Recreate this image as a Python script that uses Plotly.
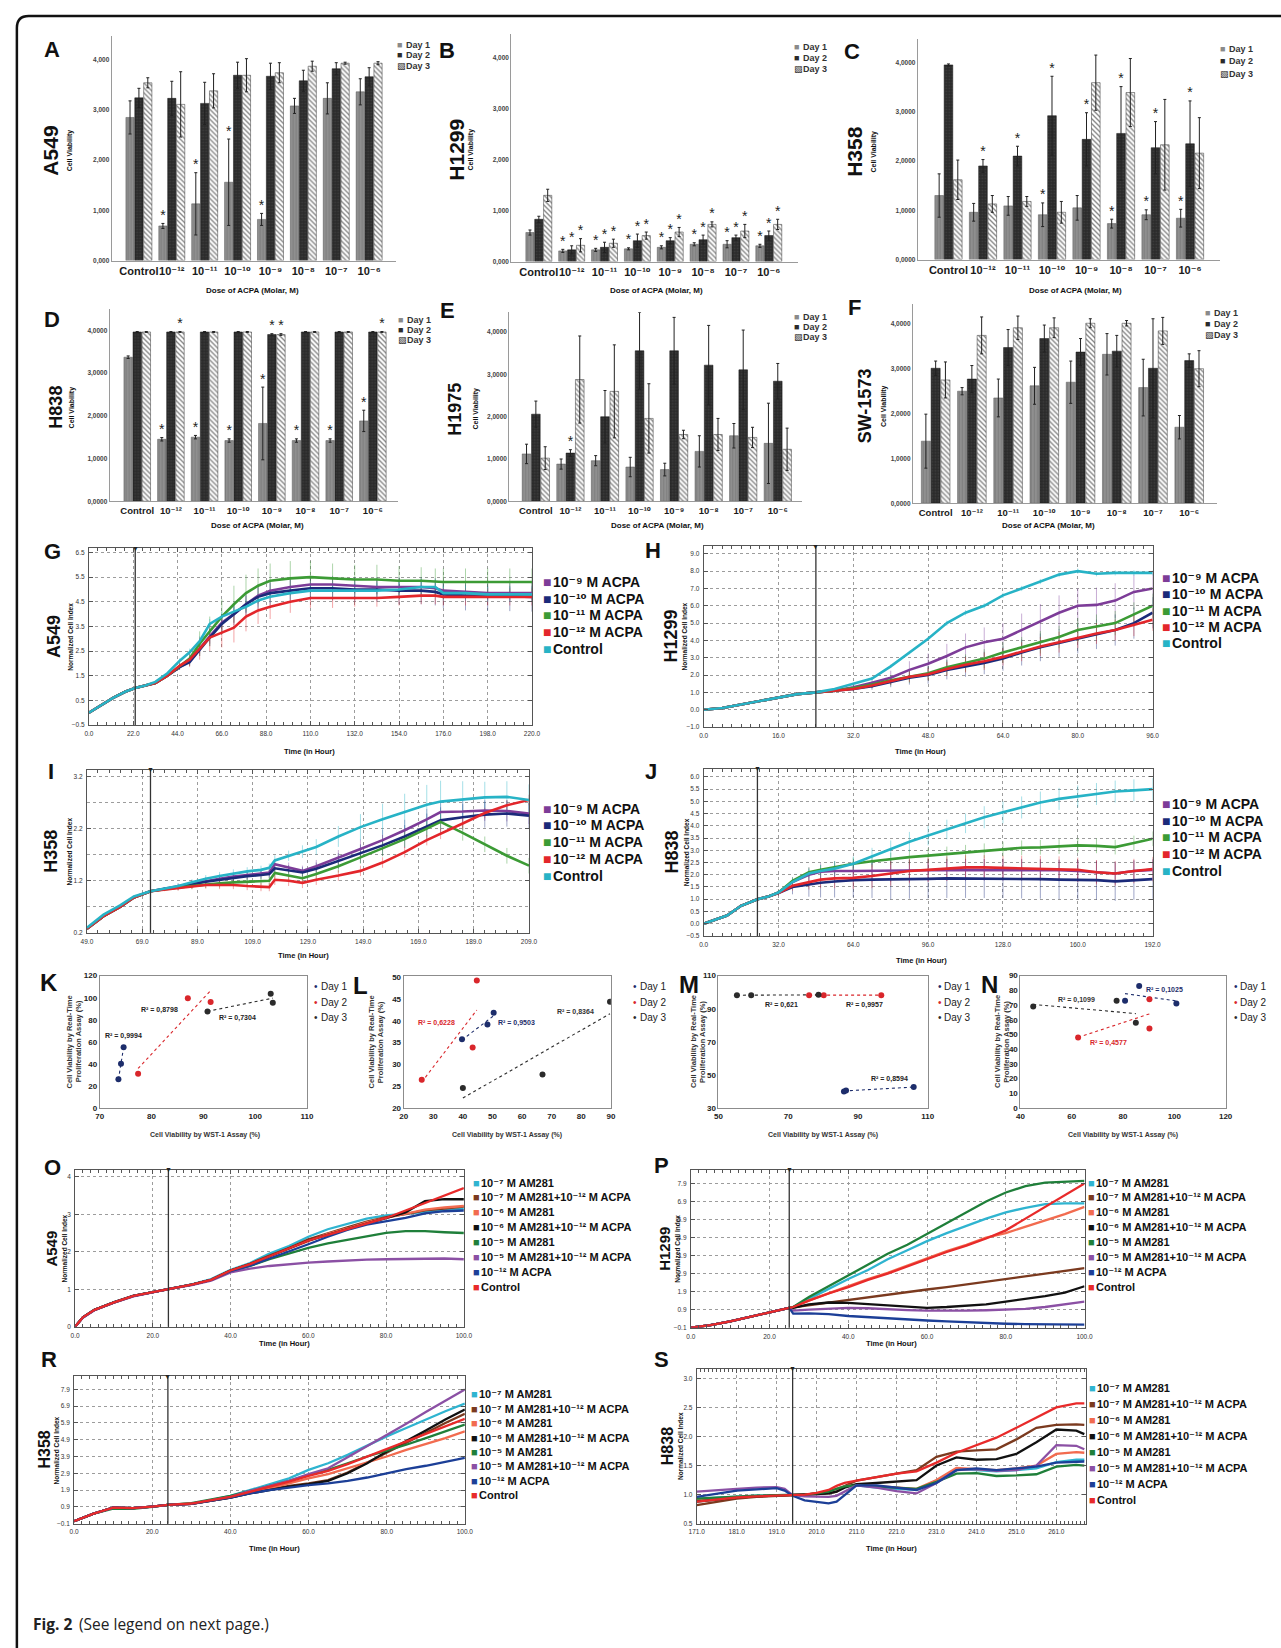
import numpy as np
import plotly.graph_objects as go

# ============================================================ DATA
DOSE_LABELS = ["Control", "10⁻¹²", "10⁻¹¹", "10⁻¹⁰", "10⁻⁹", "10⁻⁸", "10⁻⁷", "10⁻⁶"]
DAY_LABELS = ["Day 1", "Day 2", "Day 3"]
YT3 = ["0,000", "1,000", "2,000", "3,000", "4,000"]
YT4 = ["0,0000", "1,0000", "2,0000", "3,0000", "4,0000"]

# A  A549
A_D1 = [2.85, 0.69, 1.13, 1.56, 0.82, 3.08, 3.23, 3.36]
A_D1_ERR = [0.33, 0.05, 0.62, 0.86, 0.12, 0.15, 0.31, 0.26]
A_D2 = [3.24, 3.23, 3.13, 3.69, 3.67, 3.58, 3.82, 3.66]
A_D2_ERR = [0.19, 0.34, 0.42, 0.26, 0.26, 0.21, 0.12, 0.18]
A_D3 = [3.54, 3.11, 3.38, 3.69, 3.74, 3.87, 3.93, 3.93]
A_D3_ERR = [0.10, 0.65, 0.34, 0.33, 0.20, 0.10, 0.02, 0.03]
A_STARS = [(1, 0), (2, 0), (3, 0), (4, 0)]

# B  H1299
B_D1 = [0.57, 0.21, 0.23, 0.25, 0.28, 0.34, 0.34, 0.31]
B_D1_ERR = [0.05, 0.03, 0.03, 0.02, 0.03, 0.03, 0.07, 0.03]
B_D2 = [0.83, 0.23, 0.28, 0.41, 0.41, 0.43, 0.47, 0.51]
B_D2_ERR = [0.06, 0.08, 0.10, 0.13, 0.06, 0.09, 0.05, 0.09]
B_D3 = [1.30, 0.32, 0.36, 0.51, 0.58, 0.73, 0.60, 0.73]
B_D3_ERR = [0.12, 0.13, 0.08, 0.07, 0.09, 0.05, 0.13, 0.10]
B_STARS = [(1, 0), (1, 1), (1, 2), (2, 0), (2, 1), (2, 2), (3, 0), (3, 1), (3, 2),
           (4, 0), (4, 1), (4, 2), (5, 0), (5, 1), (5, 2), (6, 0), (6, 1), (6, 2),
           (7, 0), (7, 1), (7, 2)]

# C  H358
C_D1 = [1.30, 0.96, 1.09, 0.91, 1.05, 0.73, 0.91, 0.84]
C_D1_ERR = [0.44, 0.18, 0.19, 0.24, 0.25, 0.09, 0.10, 0.18]
C_D2 = [3.95, 1.90, 2.10, 2.92, 2.44, 2.56, 2.27, 2.35]
C_D2_ERR = [0.02, 0.13, 0.20, 0.80, 0.54, 0.95, 0.53, 0.87]
C_D3 = [1.62, 1.13, 1.18, 0.96, 3.59, 3.39, 2.33, 2.16]
C_D3_ERR = [0.40, 0.17, 0.10, 0.22, 0.56, 0.69, 0.92, 0.72]
C_STARS = [(1, 1), (2, 1), (3, 0), (3, 1), (4, 1), (5, 0), (5, 1), (6, 0), (6, 1), (7, 0), (7, 1)]

# D  H838
D_D1 = [3.37, 1.45, 1.50, 1.42, 1.82, 1.42, 1.42, 1.88]
D_D1_ERR = [0.03, 0.04, 0.04, 0.04, 0.85, 0.04, 0.04, 0.25]
D_D2 = [3.96, 3.96, 3.96, 3.96, 3.90, 3.96, 3.96, 3.96]
D_D2_ERR = [0.01, 0.01, 0.01, 0.01, 0.02, 0.01, 0.01, 0.01]
D_D3 = [3.96, 3.96, 3.96, 3.96, 3.90, 3.96, 3.96, 3.96]
D_D3_ERR = [0.01, 0.01, 0.01, 0.01, 0.02, 0.01, 0.01, 0.01]
D_STARS = [(1, 0), (2, 0), (3, 0), (4, 0), (5, 0), (6, 0), (7, 0), (1, 2), (4, 1), (4, 2), (7, 2)]

# E  H1975
E_D1 = [1.12, 0.88, 0.96, 0.81, 0.75, 1.18, 1.55, 1.37]
E_D1_ERR = [0.23, 0.12, 0.12, 0.23, 0.15, 0.37, 0.29, 0.95]
E_D2 = [2.06, 1.14, 2.00, 3.56, 3.56, 3.22, 3.11, 2.84]
E_D2_ERR = [0.31, 0.08, 0.62, 0.91, 0.79, 0.94, 0.94, 0.42]
E_D3 = [1.02, 2.88, 2.60, 1.96, 1.58, 1.58, 1.51, 1.23]
E_D3_ERR = [0.27, 1.03, 1.10, 0.82, 0.10, 0.38, 0.24, 0.50]
E_STARS = [(1, 1)]

# F  SW-1573
F_D1 = [1.38, 2.49, 2.34, 2.61, 2.69, 3.31, 2.57, 1.69]
F_D1_ERR = [0.60, 0.08, 0.42, 0.41, 0.47, 0.46, 0.63, 0.26]
F_D2 = [3.00, 2.76, 3.46, 3.66, 3.36, 3.38, 3.00, 3.17]
F_D2_ERR = [0.16, 0.30, 0.40, 0.30, 0.30, 0.35, 1.10, 0.15]
F_D3 = [2.74, 3.73, 3.90, 3.90, 4.00, 4.00, 3.83, 2.99]
F_D3_ERR = [0.40, 0.41, 0.26, 0.22, 0.10, 0.06, 0.30, 0.40]
F_STARS = []

ACPA_LABELS = ["10⁻⁹ M ACPA", "10⁻¹⁰ M ACPA", "10⁻¹¹ M ACPA", "10⁻¹² M ACPA", "Control"]

# G  A549 real-time
G_T = [0, 6, 12, 18, 23, 28, 33, 39, 45, 50, 55, 60, 66, 72, 78, 84, 90, 100, 110, 121,
       132, 143, 154, 165, 172, 176, 187, 198, 209, 220]
G_M9 = [0.0, 0.3, 0.6, 0.85, 1.0, 1.1, 1.2, 1.5, 1.85, 2.1, 2.6, 3.1, 3.65, 4.0, 4.4, 4.75, 4.95,
        5.1, 5.2, 5.2, 5.15, 5.1, 5.1, 5.1, 5.05, 4.95, 4.9, 4.85, 4.85, 4.85]
G_M10 = [0.0, 0.3, 0.6, 0.85, 1.0, 1.1, 1.2, 1.5, 1.85, 2.05, 2.55, 3.05, 3.6, 4.0, 4.4, 4.7, 4.85,
         4.95, 5.05, 5.05, 5.0, 5.0, 4.95, 4.95, 4.9, 4.8, 4.75, 4.75, 4.72, 4.7]
G_M11 = [0.0, 0.3, 0.6, 0.85, 1.0, 1.1, 1.2, 1.5, 1.9, 2.2, 2.8, 3.3, 3.9, 4.4, 4.85, 5.15, 5.35,
         5.45, 5.5, 5.45, 5.4, 5.4, 5.35, 5.35, 5.3, 5.3, 5.3, 5.3, 5.3, 5.3]
G_M12 = [0.0, 0.3, 0.6, 0.85, 1.0, 1.1, 1.2, 1.5, 1.9, 2.15, 2.6, 3.05, 3.25, 3.45, 3.9, 4.15, 4.3,
         4.5, 4.65, 4.65, 4.65, 4.65, 4.7, 4.75, 4.75, 4.7, 4.7, 4.7, 4.7, 4.7]
G_CTRL = [0.0, 0.3, 0.6, 0.85, 1.0, 1.1, 1.25, 1.6, 2.1, 2.45, 2.9, 3.6, 3.9, 4.1, 4.3, 4.55, 4.7,
          4.85, 4.95, 4.95, 4.95, 4.95, 5.0, 5.1, 5.1, 4.85, 4.85, 4.8, 4.8, 4.8]
G_M9_ERR = [0, 0, 0, 0, 0, 0, 0, 0.05, 0.1, 0.15, 0.2, 0.3, 0.35, 0.35, 0.35, 0.35, 0.3, 0.3, 0.3,
            0.3, 0.3, 0.3, 0.3, 0.3, 0.3, 0.3, 0.3, 0.3, 0.3, 0.3]
G_M10_ERR = [0, 0, 0, 0, 0, 0, 0, 0.05, 0.1, 0.15, 0.25, 0.35, 0.4, 0.45, 0.45, 0.5, 0.5, 0.5, 0.5,
             0.5, 0.5, 0.5, 0.55, 0.55, 0.55, 0.55, 0.6, 0.6, 0.6, 0.6]
G_M11_ERR = [0, 0, 0, 0, 0, 0, 0, 0.05, 0.15, 0.3, 0.5, 0.6, 0.7, 0.75, 0.75, 0.7, 0.7, 0.7, 0.65,
             0.6, 0.6, 0.6, 0.6, 0.55, 0.55, 0.55, 0.55, 0.55, 0.55, 0.55]
G_M12_ERR = [0, 0, 0, 0, 0, 0, 0, 0.05, 0.15, 0.3, 0.45, 0.55, 0.6, 0.6, 0.6, 0.55, 0.5, 0.45, 0.4,
             0.4, 0.35, 0.35, 0.35, 0.35, 0.35, 0.35, 0.35, 0.35, 0.35, 0.35]
G_CTRL_ERR = [0, 0, 0, 0, 0, 0, 0, 0.05, 0.1, 0.15, 0.2, 0.2, 0.2, 0.2, 0.25, 0.25, 0.25, 0.25, 0.3,
              0.3, 0.3, 0.3, 0.3, 0.3, 0.3, 0.3, 0.3, 0.3, 0.3, 0.3]

# H  H1299 real-time
H_T = [0, 4, 8, 12, 16, 20, 24, 28, 32, 36, 40, 44, 48, 52, 56, 60, 64, 68, 72, 76, 80, 84, 88, 92, 96]
H_M9 = [0, 0.1, 0.3, 0.5, 0.7, 0.9, 1.0, 1.1, 1.3, 1.55, 1.85, 2.3, 2.65, 3.1, 3.6, 3.9, 4.1, 4.6,
        5.1, 5.6, 6.0, 6.05, 6.3, 6.8, 7.0]
H_M10 = [0, 0.1, 0.3, 0.5, 0.7, 0.9, 1.0, 1.1, 1.2, 1.35, 1.6, 1.85, 2.0, 2.3, 2.5, 2.7, 2.95, 3.3,
         3.6, 3.85, 4.1, 4.35, 4.6, 5.0, 5.6]
H_M11 = [0, 0.1, 0.3, 0.5, 0.7, 0.9, 1.0, 1.1, 1.25, 1.45, 1.7, 1.9, 2.1, 2.45, 2.7, 2.95, 3.3, 3.6,
         3.9, 4.2, 4.6, 4.8, 5.0, 5.5, 6.0]
H_M12 = [0, 0.1, 0.3, 0.5, 0.7, 0.9, 1.0, 1.1, 1.2, 1.4, 1.65, 1.9, 2.05, 2.35, 2.6, 2.8, 3.05, 3.35,
         3.65, 3.9, 4.15, 4.4, 4.6, 4.9, 5.2]
H_CTRL = [0, 0.1, 0.3, 0.5, 0.7, 0.9, 1.0, 1.2, 1.5, 1.8, 2.5, 3.3, 4.1, 5.0, 5.6, 6.0, 6.6, 7.0,
          7.4, 7.8, 8.0, 7.85, 7.9, 7.9, 7.9]
H_M9_ERR = [0, 0, 0, 0, 0, 0, 0, 0.1, 0.2, 0.3, 0.4, 0.5, 0.6, 0.7, 0.8, 0.85, 0.9, 0.95, 1.0, 1.0,
            1.0, 1.0, 1.0, 1.0, 1.0]
H_M10_ERR = [0, 0, 0, 0, 0, 0, 0, 0.1, 0.15, 0.2, 0.3, 0.4, 0.5, 0.55, 0.6, 0.65, 0.7, 0.75, 0.8,
             0.8, 0.85, 0.85, 0.9, 0.9, 0.9]
H_M11_ERR = [0, 0, 0, 0, 0, 0, 0, 0.1, 0.15, 0.2, 0.3, 0.35, 0.4, 0.45, 0.5, 0.55, 0.6, 0.6, 0.65,
             0.65, 0.7, 0.7, 0.7, 0.7, 0.7]
H_M12_ERR = [0, 0, 0, 0, 0, 0, 0, 0.05, 0.1, 0.15, 0.2, 0.3, 0.35, 0.4, 0.45, 0.5, 0.5, 0.55, 0.55,
             0.6, 0.6, 0.6, 0.6, 0.65, 0.65]
H_CTRL_ERR = [0, 0, 0, 0, 0, 0, 0, 0.05, 0.05, 0.1, 0.1, 0.1, 0.1, 0.15, 0.15, 0.15, 0.15, 0.15,
              0.15, 0.15, 0.15, 0.15, 0.15, 0.15, 0.15]

# I  H358 real-time
I_T = [49, 55, 61, 66, 72, 77, 82, 87, 92, 97, 102, 107, 112, 115, 117, 122, 127, 132, 140, 148,
       156, 164, 172, 177, 185, 193, 201, 209]
I_M9 = [0.28, 0.52, 0.7, 0.88, 1.0, 1.05, 1.1, 1.15, 1.2, 1.24, 1.28, 1.31, 1.34, 1.36, 1.52, 1.45,
        1.39, 1.48, 1.64, 1.81, 1.98, 2.17, 2.38, 2.52, 2.53, 2.55, 2.54, 2.49]
I_M10 = [0.28, 0.52, 0.7, 0.88, 1.0, 1.04, 1.08, 1.13, 1.18, 1.22, 1.26, 1.29, 1.31, 1.33, 1.44, 1.4,
         1.36, 1.43, 1.58, 1.72, 1.88, 2.05, 2.24, 2.36, 2.42, 2.47, 2.49, 2.45]
I_M11 = [0.28, 0.52, 0.7, 0.88, 1.0, 1.04, 1.07, 1.1, 1.13, 1.15, 1.17, 1.18, 1.19, 1.2, 1.35, 1.3,
         1.25, 1.33, 1.48, 1.65, 1.82, 2.0, 2.2, 2.33, 2.12, 1.9, 1.68, 1.49]
I_M12 = [0.28, 0.52, 0.7, 0.88, 1.0, 1.03, 1.06, 1.1, 1.12, 1.12, 1.12, 1.1, 1.08, 1.08, 1.22, 1.2,
         1.16, 1.22, 1.3, 1.39, 1.55, 1.75, 1.98, 2.1, 2.3, 2.5, 2.65, 2.75]
I_CTRL = [0.3, 0.55, 0.73, 0.9, 1.0, 1.05, 1.1, 1.17, 1.24, 1.29, 1.34, 1.38, 1.41, 1.45, 1.59, 1.68,
          1.76, 1.85, 2.05, 2.23, 2.38, 2.52, 2.66, 2.72, 2.76, 2.8, 2.81, 2.75]
I_M9_ERR = [0, 0.02, 0.02, 0.02, 0, 0.03, 0.05, 0.06, 0.07, 0.08, 0.08, 0.08, 0.08, 0.08, 0.1, 0.1,
            0.1, 0.12, 0.15, 0.18, 0.2, 0.2, 0.2, 0.2, 0.2, 0.2, 0.2, 0.2]
I_M10_ERR = [0, 0.02, 0.02, 0.02, 0, 0.03, 0.05, 0.06, 0.07, 0.08, 0.08, 0.08, 0.08, 0.08, 0.1, 0.1,
             0.1, 0.12, 0.15, 0.18, 0.2, 0.22, 0.25, 0.25, 0.25, 0.25, 0.25, 0.25]
I_M11_ERR = [0, 0.02, 0.02, 0.02, 0, 0.03, 0.05, 0.06, 0.07, 0.08, 0.08, 0.08, 0.08, 0.08, 0.1, 0.1,
             0.1, 0.1, 0.12, 0.12, 0.15, 0.15, 0.15, 0.15, 0.15, 0.15, 0.15, 0.15]
I_M12_ERR = [0, 0.02, 0.02, 0.02, 0, 0.03, 0.05, 0.06, 0.07, 0.08, 0.08, 0.08, 0.08, 0.08, 0.1, 0.1,
             0.1, 0.1, 0.1, 0.1, 0.1, 0.1, 0.1, 0.1, 0.1, 0.1, 0.1, 0.1]
I_CTRL_ERR = [0, 0.02, 0.02, 0.02, 0, 0.03, 0.05, 0.06, 0.07, 0.08, 0.08, 0.08, 0.08, 0.08, 0.1,
              0.1, 0.12, 0.15, 0.2, 0.25, 0.3, 0.35, 0.38, 0.4, 0.35, 0.3, 0.3, 0.3]

# J  H838 real-time
J_T = [0, 5, 10, 16, 23, 28, 32, 38, 45, 50, 56, 64, 72, 80, 88, 96, 104, 112, 120, 128, 136, 144,
       152, 160, 168, 176, 184, 192]
J_M9 = [0, 0.15, 0.33, 0.73, 1.0, 1.12, 1.27, 1.7, 2.0, 2.12, 2.15, 2.15, 2.15, 2.15, 2.15, 2.18,
        2.2, 2.2, 2.2, 2.2, 2.2, 2.2, 2.18, 2.15, 2.1, 2.05, 2.15, 2.2]
J_M10 = [0, 0.15, 0.33, 0.73, 1.0, 1.12, 1.25, 1.5, 1.6, 1.67, 1.72, 1.78, 1.8, 1.8, 1.82, 1.83,
         1.85, 1.85, 1.85, 1.85, 1.83, 1.82, 1.8, 1.8, 1.78, 1.73, 1.78, 1.82]
J_M11 = [0, 0.15, 0.33, 0.73, 1.0, 1.12, 1.27, 1.75, 2.1, 2.2, 2.3, 2.45, 2.55, 2.65, 2.72, 2.78,
         2.85, 2.92, 2.98, 3.05, 3.1, 3.12, 3.15, 3.2, 3.18, 3.13, 3.3, 3.47]
J_M12 = [0, 0.15, 0.33, 0.73, 1.0, 1.12, 1.25, 1.55, 1.7, 1.8, 1.85, 1.87, 1.95, 2.05, 2.15, 2.2,
         2.25, 2.3, 2.3, 2.28, 2.28, 2.27, 2.25, 2.2, 2.1, 2.05, 2.15, 2.23]
J_CTRL = [0, 0.15, 0.33, 0.73, 1.0, 1.12, 1.27, 1.7, 2.05, 2.15, 2.25, 2.45, 2.75, 3.05, 3.35, 3.6,
          3.85, 4.1, 4.35, 4.55, 4.75, 4.95, 5.1, 5.2, 5.3, 5.4, 5.45, 5.5]
J_M9_ERR = [0, 0, 0.02, 0.05, 0, 0.05, 0.1, 0.2, 0.3, 0.35, 0.4, 0.4, 0.45, 0.45, 0.45, 0.45, 0.45,
            0.45, 0.45, 0.45, 0.45, 0.45, 0.45, 0.45, 0.45, 0.45, 0.45, 0.45]
J_M10_ERR = [0, 0, 0.02, 0.05, 0, 0.05, 0.1, 0.3, 0.5, 0.6, 0.65, 0.7, 0.75, 0.8, 0.8, 0.8, 0.8,
             0.8, 0.8, 0.8, 0.8, 0.8, 0.8, 0.8, 0.8, 0.8, 0.8, 0.8]
J_M11_ERR = [0, 0, 0.02, 0.05, 0, 0.05, 0.1, 0.15, 0.2, 0.2, 0.25, 0.25, 0.25, 0.25, 0.3, 0.3, 0.3,
             0.3, 0.3, 0.3, 0.3, 0.3, 0.3, 0.3, 0.3, 0.3, 0.3, 0.3]
J_M12_ERR = [0, 0, 0.02, 0.05, 0, 0.05, 0.1, 0.2, 0.3, 0.35, 0.4, 0.45, 0.5, 0.5, 0.5, 0.5, 0.5,
             0.5, 0.5, 0.5, 0.5, 0.5, 0.5, 0.5, 0.5, 0.5, 0.5, 0.5]
J_CTRL_ERR = [0, 0, 0.02, 0.05, 0, 0.05, 0.1, 0.15, 0.2, 0.25, 0.3, 0.3, 0.35, 0.35, 0.4, 0.4, 0.4,
              0.4, 0.45, 0.45, 0.45, 0.45, 0.45, 0.45, 0.45, 0.45, 0.45, 0.45]

# K-N  WST-1 vs real-time (x, y per day)
K_D1_X = [73.6, 74.1, 74.6]; K_D1_Y = [26, 40, 55]
K_D2_X = [77.4, 87.0, 91.4]; K_D2_Y = [31, 99.5, 96]
K_D3_X = [90.8, 103.0, 103.4]; K_D3_Y = [87.5, 103.5, 95.5]
K_R2 = ["R² = 0,9994", "R² = 0,8798", "R² = 0,7304"]

L_D1_X = [39.7, 48.3, 50.4]; L_D1_Y = [35.8, 39.2, 41.9]
L_D2_X = [26.1, 44.7, 43.3]; L_D2_Y = [26.5, 49.3, 33.9]
L_D3_X = [40.0, 66.9, 89.7]; L_D3_Y = [24.6, 27.7, 44.4]
L_R2 = ["R² = 0,9503", "R² = 0,6228", "R² = 0,8364"]

M_D1_X = [86.0, 86.6, 106.0]; M_D1_Y = [40.0, 40.6, 42.6]
M_D2_X = [76.0, 80.2, 96.7]; M_D2_Y = [98.2, 98.2, 98.2]
M_D3_X = [55.3, 59.4, 78.7]; M_D3_Y = [98.2, 98.2, 98.4]
M_R2 = ["R² = 0,8594", "R² = 0,9957", "R² = 0,621"]

N_D1_X = [80.8, 86.3, 100.8]; N_D1_Y = [73, 83, 71]
N_D2_X = [62.5, 90.3, 90.3]; N_D2_Y = [48, 74, 54]
N_D3_X = [45.0, 77.5, 85.0]; N_D3_Y = [69, 73, 58]
N_R2 = ["R² = 0,1025", "R² = 0,4577", "R² = 0,1099"]

AM_LABELS = ["10⁻⁷ M AM281", "10⁻⁷ M AM281+10⁻¹² M ACPA", "10⁻⁶ M AM281",
             "10⁻⁶ M AM281+10⁻¹² M ACPA", "10⁻⁵ M AM281", "10⁻⁵ M AM281+10⁻¹² M ACPA",
             "10⁻¹² M ACPA", "Control"]

# O  A549 AM281
O_T = [0, 2, 5, 10, 15, 20, 24, 30, 35, 40, 45, 50, 55, 60, 65, 70, 75, 80, 85, 90, 95, 100]
O_AM7 = [0, 0.25, 0.45, 0.66, 0.82, 0.93, 1.0, 1.13, 1.27, 1.52, 1.7, 1.95, 2.15, 2.4, 2.6, 2.75, 2.88, 2.97, 3.02, 3.07, 3.12, 3.15]
O_AM7A = [0, 0.25, 0.45, 0.65, 0.82, 0.93, 1.0, 1.12, 1.25, 1.5, 1.68, 1.9, 2.1, 2.33, 2.5, 2.65, 2.8, 2.92, 3.0, 3.1, 3.15, 3.2]
O_AM6 = [0, 0.25, 0.45, 0.65, 0.82, 0.93, 1.0, 1.12, 1.25, 1.5, 1.67, 1.88, 2.08, 2.3, 2.48, 2.62, 2.78, 2.9, 3.0, 3.12, 3.18, 3.22]
O_AM6A = [0, 0.25, 0.45, 0.65, 0.82, 0.93, 1.0, 1.12, 1.25, 1.5, 1.67, 1.88, 2.08, 2.3, 2.45, 2.6, 2.75, 2.9, 3.05, 3.35, 3.4, 3.4]
O_AM5 = [0, 0.25, 0.45, 0.65, 0.82, 0.93, 1.0, 1.12, 1.25, 1.48, 1.62, 1.8, 1.95, 2.1, 2.22, 2.32, 2.42, 2.5, 2.55, 2.55, 2.52, 2.5]
O_AM5A = [0, 0.24, 0.44, 0.64, 0.81, 0.92, 1.0, 1.11, 1.23, 1.45, 1.55, 1.62, 1.67, 1.71, 1.74, 1.77, 1.79, 1.8, 1.81, 1.82, 1.82, 1.8]
O_ACPA = [0, 0.25, 0.45, 0.65, 0.82, 0.93, 1.0, 1.12, 1.25, 1.48, 1.63, 1.82, 2.0, 2.2, 2.4, 2.58, 2.72, 2.8, 2.9, 3.02, 3.08, 3.1]
O_CTRL = [0, 0.25, 0.45, 0.65, 0.82, 0.93, 1.0, 1.12, 1.25, 1.5, 1.67, 1.88, 2.08, 2.3, 2.45, 2.6, 2.75, 2.9, 3.1, 3.3, 3.5, 3.7]

# P  H1299 AM281
P_T = [0, 5, 10, 15, 20, 25, 26, 30, 35, 40, 45, 50, 55, 60, 65, 70, 75, 80, 85, 90, 95, 100]
P_AM7 = [-0.1, 0.05, 0.25, 0.48, 0.75, 1.0, 1.05, 1.5, 2.05, 2.6, 3.1, 3.7, 4.2, 4.7, 5.15, 5.55, 5.95, 6.3, 6.55, 6.75, 6.8, 6.8]
P_AM7A = [-0.1, 0.05, 0.25, 0.48, 0.75, 1.0, 1.03, 1.15, 1.3, 1.45, 1.58, 1.72, 1.87, 2.02, 2.15, 2.3, 2.45, 2.6, 2.75, 2.9, 3.05, 3.2]
P_AM6 = [-0.1, 0.05, 0.25, 0.48, 0.75, 1.0, 1.05, 1.42, 1.82, 2.2, 2.6, 2.95, 3.35, 3.75, 4.15, 4.5, 4.9, 5.15, 5.5, 5.85, 6.2, 6.6]
P_AM6A = [-0.1, 0.05, 0.25, 0.48, 0.75, 1.0, 1.0, 1.2, 1.3, 1.28, 1.2, 1.12, 1.05, 1.0, 1.05, 1.12, 1.2, 1.35, 1.5, 1.65, 1.85, 2.2]
P_AM5 = [-0.1, 0.05, 0.25, 0.48, 0.75, 1.0, 1.05, 1.6, 2.2, 2.8, 3.4, 4.0, 4.5, 5.1, 5.7, 6.3, 6.9, 7.4, 7.75, 7.95, 8.0, 8.05]
P_AM5A = [-0.1, 0.05, 0.25, 0.48, 0.75, 1.0, 0.85, 0.9, 0.95, 1.0, 0.98, 0.92, 0.88, 0.85, 0.84, 0.85, 0.87, 0.9, 0.95, 1.05, 1.2, 1.35]
P_ACPA = [-0.1, 0.05, 0.25, 0.48, 0.75, 1.0, 0.68, 0.7, 0.65, 0.55, 0.48, 0.42, 0.35, 0.3, 0.25, 0.2, 0.15, 0.12, 0.1, 0.08, 0.07, 0.07]
P_CTRL = [-0.1, 0.05, 0.25, 0.48, 0.75, 1.0, 1.05, 1.4, 1.8, 2.15, 2.55, 2.9, 3.3, 3.7, 4.1, 4.45, 4.85, 5.3, 5.95, 6.6, 7.25, 7.9]

# R  H358 AM281
R_T = [0, 5, 10, 15, 20, 24, 30, 35, 40, 45, 50, 55, 60, 65, 70, 75, 80, 85, 90, 95, 100]
R_AM7 = [0.05, 0.5, 0.85, 0.82, 0.92, 1.02, 1.1, 1.3, 1.55, 1.9, 2.25, 2.6, 3.1, 3.5, 4.0, 4.55, 5.1, 5.6, 6.1, 6.6, 7.05]
R_AM7A = [0.05, 0.5, 0.85, 0.82, 0.92, 1.02, 1.08, 1.25, 1.45, 1.72, 1.95, 2.15, 2.3, 2.5, 2.95, 3.55, 4.15, 4.75, 5.3, 5.9, 6.45]
R_AM6 = [0.05, 0.5, 0.85, 0.82, 0.92, 1.02, 1.08, 1.27, 1.48, 1.75, 2.0, 2.3, 2.6, 2.85, 3.2, 3.55, 3.9, 4.3, 4.65, 5.0, 5.4]
R_AM6A = [0.05, 0.5, 0.85, 0.82, 0.92, 1.02, 1.08, 1.25, 1.45, 1.7, 1.9, 2.1, 2.25, 2.45, 2.9, 3.5, 4.2, 4.8, 5.45, 6.1, 6.7]
R_AM5 = [0.05, 0.5, 0.8, 0.78, 0.9, 1.02, 1.12, 1.32, 1.55, 1.85, 2.15, 2.45, 2.8, 3.1, 3.5, 3.9, 4.25, 4.6, 5.0, 5.4, 5.8]
R_AM5A = [0.05, 0.5, 0.85, 0.82, 0.92, 1.02, 1.08, 1.28, 1.5, 1.85, 2.15, 2.45, 2.85, 3.2, 3.85, 4.5, 5.2, 5.85, 6.55, 7.2, 7.9]
R_ACPA = [0.05, 0.5, 0.85, 0.82, 0.92, 1.02, 1.08, 1.25, 1.45, 1.7, 1.9, 2.05, 2.2, 2.3, 2.45, 2.65, 2.9, 3.15, 3.35, 3.6, 3.82]
R_CTRL = [0.05, 0.5, 0.85, 0.82, 0.92, 1.02, 1.1, 1.3, 1.5, 1.8, 2.1, 2.4, 2.75, 3.05, 3.45, 3.9, 4.35, 4.8, 5.25, 5.7, 6.15]

# S  H838 AM281
S_T = [171, 176, 181, 186, 191, 193, 195, 198, 201, 204, 206, 208, 211, 216, 221, 226, 231, 236,
       241, 246, 251, 256, 261, 266, 268]
S_AM7 = [0.93, 0.95, 0.97, 0.98, 0.99, 0.99, 0.99, 1.0, 1.02, 1.05, 1.1, 1.14, 1.16, 1.12, 1.1, 1.08, 1.24, 1.44, 1.42, 1.4, 1.42, 1.45, 1.56, 1.6, 1.6]
S_AM7A = [0.82, 0.88, 0.93, 0.96, 0.98, 0.99, 0.99, 1.0, 1.01, 1.02, 1.05, 1.15, 1.24, 1.3, 1.36, 1.42, 1.65, 1.74, 1.76, 1.78, 1.95, 2.15, 2.2, 2.21, 2.2]
S_AM6 = [0.9, 0.93, 0.95, 0.97, 0.98, 0.99, 0.99, 1.0, 1.02, 1.05, 1.1, 1.14, 1.17, 1.15, 1.12, 1.1, 1.25, 1.46, 1.44, 1.42, 1.45, 1.5, 1.7, 1.73, 1.72]
S_AM6A = [0.88, 0.92, 0.95, 0.97, 0.98, 0.99, 0.99, 1.0, 1.01, 1.02, 1.05, 1.12, 1.18, 1.2, 1.22, 1.25, 1.5, 1.64, 1.6, 1.61, 1.7, 1.9, 2.12, 2.1, 2.04]
S_AM5 = [0.93, 0.95, 0.97, 0.98, 0.99, 0.99, 0.99, 1.0, 1.02, 1.05, 1.1, 1.14, 1.16, 1.14, 1.12, 1.1, 1.22, 1.36, 1.37, 1.32, 1.33, 1.35, 1.48, 1.51, 1.5]
S_AM5A = [1.05, 1.08, 1.1, 1.12, 1.13, 1.1, 0.99, 0.97, 0.96, 0.96, 0.98, 1.05, 1.16, 1.12, 1.06, 1.02, 1.2, 1.42, 1.44, 1.41, 1.42, 1.5, 1.85, 1.84, 1.78]
S_ACPA = [0.96, 1.02, 1.07, 1.09, 1.11, 1.07, 0.98, 0.9, 0.87, 0.85, 0.88, 0.99, 1.16, 1.16, 1.12, 1.08, 1.2, 1.42, 1.45, 1.42, 1.45, 1.48, 1.55, 1.57, 1.57]
S_CTRL = [0.88, 0.92, 0.95, 0.97, 0.98, 0.99, 0.99, 1.0, 1.03, 1.08, 1.15, 1.2, 1.24, 1.3, 1.36, 1.4, 1.55, 1.72, 1.85, 1.98, 2.15, 2.33, 2.5, 2.57, 2.57]

# ============================================================ FIGURE
W, H = 1281, 1648
SANS = "Liberation Sans, Arial, DejaVu Sans, sans-serif"

ACPA_COLORS = ["#7d3c98", "#1b2a7a", "#3c9b35", "#e3262b", "#27b3c6"]
AM_COLORS = ["#2fb4d0", "#7b3a1f", "#f26b4f", "#111111", "#1f7f3a", "#8b50a4", "#1c3f97", "#e82a2a"]
DAY_COLORS = ["#1d2d6b", "#d9262b", "#2b2b2b"]


def fx(x):
    return x / W


def fy(y):
    return 1 - y / H


fig = go.Figure()
annotations = []
shapes = []
_axn = [0]


def new_axes(x0, x1, y0, y1, xopts, yopts):
    _axn[0] += 1
    n = _axn[0]
    xa, ya = ("xaxis", "yaxis") if n == 1 else (f"xaxis{n}", f"yaxis{n}")
    xr, yr = ("x", "y") if n == 1 else (f"x{n}", f"y{n}")
    fig.update_layout({xa: dict(domain=[fx(x0), fx(x1)], anchor=yr, **xopts),
                       ya: dict(domain=[fy(y1), fy(y0)], anchor=xr, **yopts)})
    return xr, yr


def txt(x, y, s, size, color="#111", bold=True, angle=0, xanchor="center", yanchor="middle",
        family=SANS):
    annotations.append(dict(x=fx(x), y=fy(y), xref="paper", yref="paper", text=s, showarrow=False,
                            font=dict(size=size, family=family, color=color,
                                      weight="bold" if bold else "normal"),
                            textangle=angle, xanchor=xanchor, yanchor=yanchor))


def light(c, a=0.42):
    c = c.lstrip("#")
    return f"rgba({int(c[0:2], 16)},{int(c[2:4], 16)},{int(c[4:6], 16)},{a})"


# ---------------------------------------------------------------- bar panels
OFFS = [-0.27, 0.0, 0.27]
BAR_W = 0.25
DAY_MARKERS = [
    dict(color="#8a8a8a", line=dict(color="#555", width=0.5),
         pattern=dict(shape="|", fgcolor="#6a6a6a", bgcolor="#8f8f8f", size=3, solidity=0.3)),
    dict(color="#2b2b2b", line=dict(color="#111", width=0.5),
         pattern=dict(shape=".", fgcolor="#555555", bgcolor="#2b2b2b", size=3, solidity=0.25)),
    dict(color="#ffffff", line=dict(color="#333", width=0.5),
         pattern=dict(shape="\\", fgcolor="#111111", bgcolor="#ffffff", size=3.5, solidity=0.4)),
]


def bar_panel(box, xrng, ytop, ytext, cat_size, series, stars, letter, letter_xy, cell, cell_x,
              cell_size, cv_x, title_xy, leg_xy, leg_dy):
    x0, x1, y0, y1 = box
    xr, yr = new_axes(
        x0, x1, y0, y1,
        dict(range=xrng, tickmode="array", tickvals=list(range(8)), ticktext=DOSE_LABELS,
             tickangle=0,
             tickfont=dict(size=cat_size, family=SANS, color="#1a1a1a", weight="bold"),
             showline=True, linecolor="#9a9a9a", linewidth=1, ticks="", showgrid=False,
             zeroline=False),
        dict(range=[0, ytop], tickmode="array", tickvals=[0, 1, 2, 3, 4], ticktext=ytext,
             tickfont=dict(size=6.5, family=SANS, color="#444", weight="bold"),
             showline=True, linecolor="#9a9a9a", linewidth=1, ticks="", showgrid=False,
             zeroline=False))
    for d, (vals, errs) in enumerate(series):
        xs = [i + OFFS[d] for i in range(len(vals))]
        fig.add_trace(go.Bar(x=xs, y=vals, width=BAR_W, marker=DAY_MARKERS[d],
                             error_y=dict(type="data", array=errs, color="#222", thickness=1, width=1.5),
                             xaxis=xr, yaxis=yr, showlegend=False, hoverinfo="skip"))
    if stars:
        sx = [i + OFFS[d] for i, d in stars]
        sy = [series[d][0][i] + series[d][1][i] for i, d in stars]
        fig.add_trace(go.Scatter(x=sx, y=sy, mode="text", text=["*"] * len(sx),
                                 textposition="top center",
                                 textfont=dict(size=14, family=SANS, color="#222"),
                                 xaxis=xr, yaxis=yr, showlegend=False, hoverinfo="skip"))
    yc = (y0 + y1) / 2
    txt(letter_xy[0], letter_xy[1], letter, 22)
    txt(cell_x, yc + 2, cell, cell_size, angle=-90)
    txt(cv_x, yc + 2, "Cell Viability", 7, angle=-90)
    txt(title_xy[0], title_xy[1], "Dose of ACPA (Molar, M)", 8)
    glyphs = [("■", "#8a8a8a"), ("■", "#2b2b2b"), ("▧", "#222")]
    for k in range(3):
        g, c = glyphs[k]
        ly = leg_xy[1] + k * leg_dy
        txt(leg_xy[0], ly, g, 9, color=c, bold=False, xanchor="left")
        txt(leg_xy[0] + 9, ly, DAY_LABELS[k], 9, color="#333", xanchor="left")


bar_panel((105, 393, 32, 258), [-0.83, 7.81], 4.475, YT3, 11,
          [(A_D1, A_D1_ERR), (A_D2, A_D2_ERR), (A_D3, A_D3_ERR)], A_STARS,
          "A", (45, 46), "A549", 43, 21, 63, (248, 288), (392, 41), 10.5)
bar_panel((510, 801, 30, 259), [-0.84, 7.9], 4.47, YT3, 11,
          [(B_D1, B_D1_ERR), (B_D2, B_D2_ERR), (B_D3, B_D3_ERR)], B_STARS,
          "B", (445, 47), "H1299", 455, 21, 469, (657, 288), (795, 43), 11)
bar_panel((922, 1228, 35, 257), [-0.89, 7.86], 4.48, YT4, 11,
          [(C_D1, C_D1_ERR), (C_D2, C_D2_ERR), (C_D3, C_D3_ERR)], C_STARS,
          "C", (855, 48), "H358", 858, 21, 878, (1082, 288), (1226, 45), 12.5)
bar_panel((103, 395, 307, 500), [-0.82, 7.74], 4.49, YT4, 9.5,
          [(D_D1, D_D1_ERR), (D_D2, D_D2_ERR), (D_D3, D_D3_ERR)], D_STARS,
          "D", (45, 317), "H838", 49, 18, 65, (253, 524), (393, 318), 10)
bar_panel((508, 805, 310, 500), [-0.77, 7.71], 4.47, YT4, 9.5,
          [(E_D1, E_D1_ERR), (E_D2, E_D2_ERR), (E_D3, E_D3_ERR)], E_STARS,
          "E", (445, 308), "H1975", 453, 18, 474, (658, 524), (795, 315), 10)
bar_panel((917, 1225, 302, 502), [-0.63, 7.76], 4.42, YT4, 9.5,
          [(F_D1, F_D1_ERR), (F_D2, F_D2_ERR), (F_D3, F_D3_ERR)], F_STARS,
          "F", (858, 305), "SW-1573", 868, 18, 888, (1054, 524), (1211, 311), 11)


# ---------------------------------------------------------------- line panels
def line_panel(box, xrng, xt0, xdt, xminor, yrng, yt0, ydt, yfmt, series, labels, colors, vline,
               letter, letter_xy, cell, cell_x, cell_size, nci_x, title_xy, leg_x, leg_y0, leg_dy,
               leg_size, ygrid_minor=None, lw=2.6):
    x0, x1, y0, y1 = box
    common = dict(showline=True, mirror="ticks", linecolor="#555", linewidth=1, ticks="inside",
                  ticklen=4, tickcolor="#555", showgrid=True, gridcolor="#9c9c9c", griddash="dot",
                  gridwidth=1, zeroline=False, ticklabelstandoff=2,
                  tickfont=dict(size=6.5, family=SANS, color="#333"))
    yextra = {}
    if ygrid_minor:
        yextra["minor"] = dict(tickmode="linear", tick0=yt0, dtick=ygrid_minor, showgrid=True,
                               gridcolor="#9c9c9c", griddash="dot", ticks="")
    xr, yr = new_axes(
        x0, x1, y0, y1,
        dict(range=xrng, tickmode="linear", tick0=xt0, dtick=xdt, tickformat=".1f",
             minor=dict(tickmode="linear", tick0=xt0, dtick=xminor, ticks="inside", ticklen=3,
                        tickcolor="#555", showgrid=False), **common),
        dict(range=yrng, tickmode="linear", tick0=yt0, dtick=ydt, tickformat=yfmt, **common,
             **yextra))
    for (t, v, e), c in zip(series, colors):
        if e is not None:
            fig.add_trace(go.Scatter(x=t, y=v, mode="markers",
                                     marker=dict(size=1, color="rgba(0,0,0,0)"),
                                     error_y=dict(type="data", array=e, color=light(c), thickness=1,
                                                  width=0),
                                     xaxis=xr, yaxis=yr, showlegend=False, hoverinfo="skip"))
    for (t, v, e), c in zip(series, colors):
        fig.add_trace(go.Scatter(x=t, y=v, mode="lines", line=dict(color=c, width=lw),
                                 xaxis=xr, yaxis=yr, showlegend=False, hoverinfo="skip"))
    shapes.append(dict(type="line", xref=xr, yref=f"{yr} domain", x0=vline, x1=vline, y0=0, y1=1,
                       line=dict(color="#333", width=1.3)))
    annotations.append(dict(x=vline, y=1, xref=xr, yref=f"{yr} domain", text="▼", showarrow=False,
                            font=dict(size=7, color="#222"), yanchor="middle"))
    yc = (y0 + y1) / 2
    txt(letter_xy[0], letter_xy[1], letter, 22)
    txt(cell_x, yc, cell, cell_size, angle=-90)
    txt(nci_x, yc, "Normalized Cell Index", 6.5, angle=-90)
    txt(title_xy[0], title_xy[1], "Time (in Hour)", 7.5)
    for k, (lab, c) in enumerate(zip(labels, colors)):
        ly = leg_y0 + k * leg_dy
        txt(leg_x, ly, "■", leg_size, color=c, bold=False, xanchor="left")
        txt(leg_x + 0.72 * leg_size, ly, lab, leg_size, color="#111", xanchor="left")


line_panel((82, 531, 547, 725), [0, 220], 0, 22, 4.4, [-0.5, 6.68], -0.5, 1, ".1f",
           [(G_T, G_M9, G_M9_ERR), (G_T, G_M10, G_M10_ERR), (G_T, G_M11, G_M11_ERR),
            (G_T, G_M12, G_M12_ERR), (G_T, G_CTRL, G_CTRL_ERR)],
           ACPA_LABELS, ACPA_COLORS, 23, "G", (45, 551), "A549", 46, 18, 63, (306, 752),
           540, 581, 16.8, 14)
line_panel((705, 1160, 545, 727), [0, 96], 0, 16, 2, [-1, 9.45], -1, 1, ".1f",
           [(H_T, H_M9, H_M9_ERR), (H_T, H_M10, H_M10_ERR), (H_T, H_M11, H_M11_ERR),
            (H_T, H_M12, H_M12_ERR), (H_T, H_CTRL, H_CTRL_ERR)],
           ACPA_LABELS, ACPA_COLORS, 24, "H", (654, 550), "H1299", 671, 18, 686, (925, 752),
           1168, 577, 16.5, 14)
line_panel((80, 528, 770, 934), [49, 209], 49, 20, 4, [0.2, 3.33], 0.2, 1, ".1f",
           [(I_T, I_M9, I_M9_ERR), (I_T, I_M10, I_M10_ERR), (I_T, I_M11, I_M11_ERR),
            (I_T, I_M12, I_M12_ERR), (I_T, I_CTRL, I_CTRL_ERR)],
           ACPA_LABELS, ACPA_COLORS, 72, "I", (44, 772), "H358", 44, 18, 62, (299, 957),
           540, 809, 17, 14, ygrid_minor=0.5)
line_panel((705, 1160, 769, 937), [0, 192], 0, 32, 4, [-0.5, 6.33], -0.5, 0.5, ".1f",
           [(J_T, J_M9, J_M9_ERR), (J_T, J_M10, J_M10_ERR), (J_T, J_M11, J_M11_ERR),
            (J_T, J_M12, J_M12_ERR), (J_T, J_CTRL, J_CTRL_ERR)],
           ACPA_LABELS, ACPA_COLORS, 23, "J", (652, 772), "H838", 673, 18, 687, (926, 962),
           1168, 804, 17, 14)

line_panel((68, 462, 1172, 1330), [0, 100], 0, 20, 2, [0, 4.19], 0, 1, "d",
           [(O_T, O_AM7, None), (O_T, O_AM7A, None), (O_T, O_AM6, None), (O_T, O_AM6A, None),
            (O_T, O_AM5, None), (O_T, O_AM5A, None), (O_T, O_ACPA, None), (O_T, O_CTRL, None)],
           AM_LABELS, AM_COLORS, 24, "O", (45, 1170), "A549", 44, 15, 57, (280, 1347),
           469, 1185, 15, 11, lw=2.3)
line_panel((692, 1091, 1172, 1331), [0, 100], 0, 20, 2, [-0.1, 8.67], -0.1, 1, ".1f",
           [(P_T, P_AM7, None), (P_T, P_AM7A, None), (P_T, P_AM6, None), (P_T, P_AM6A, None),
            (P_T, P_AM5, None), (P_T, P_AM5A, None), (P_T, P_ACPA, None), (P_T, P_CTRL, None)],
           AM_LABELS, AM_COLORS, 25, "P", (662, 1168), "H1299", 665, 15, 679, (895, 1347),
           1093, 1185, 15, 11, lw=2.3)
line_panel((67, 463, 1380, 1528), [0, 100], 0, 20, 2, [-0.1, 8.67], -0.1, 1, ".1f",
           [(R_T, R_AM7, None), (R_T, R_AM7A, None), (R_T, R_AM6, None), (R_T, R_AM6A, None),
            (R_T, R_AM5, None), (R_T, R_AM5A, None), (R_T, R_ACPA, None), (R_T, R_CTRL, None)],
           AM_LABELS, AM_COLORS, 24, "R", (42, 1363), "H358", 37, 16, 49, (270, 1553),
           467, 1398, 14.5, 11, lw=2.3)
line_panel((698, 1092, 1372, 1528), [171, 268.3], 171, 10, 1, [0.5, 3.17], 0.5, 0.5, ".1f",
           [(S_T, S_AM7, None), (S_T, S_AM7A, None), (S_T, S_AM6, None), (S_T, S_AM6A, None),
            (S_T, S_AM5, None), (S_T, S_AM5A, None), (S_T, S_ACPA, None), (S_T, S_CTRL, None)],
           AM_LABELS, AM_COLORS, 195, "S", (662, 1363), "H838", 668, 16, 681, (895, 1553),
           1094, 1392, 16, 11, lw=2.3)


# ---------------------------------------------------------------- scatter panels
def scatter_panel(box, xrng, xdt, yrng, ydt, days, r2, r2_pos, r2_colors, letter, letter_xy,
                  ytitle_x, xtitle_x, leg_x):
    x0, x1, y0, y1 = box
    common = dict(showline=True, mirror=True, linecolor="#8c8c8c", linewidth=1, ticks="",
                  showgrid=False, zeroline=False,
                  tickfont=dict(size=8, family=SANS, color="#222", weight="bold"))
    xr, yr = new_axes(x0, x1, y0, y1,
                      dict(range=xrng, tickmode="linear", tick0=xrng[0], dtick=xdt, **common),
                      dict(range=yrng, tickmode="linear", tick0=yrng[0], dtick=ydt, **common))
    for d, (xs, ys) in enumerate(days):
        coef = np.polyfit(xs, ys, 1)
        xe = [min(xs), max(xs)]
        fig.add_trace(go.Scatter(x=xe, y=list(np.polyval(coef, xe)), mode="lines",
                                 line=dict(color=DAY_COLORS[d], width=1.1, dash="dot"),
                                 xaxis=xr, yaxis=yr, showlegend=False, hoverinfo="skip"))
    for d, (xs, ys) in enumerate(days):
        fig.add_trace(go.Scatter(x=xs, y=ys, mode="markers",
                                 marker=dict(size=6, color=DAY_COLORS[d]),
                                 xaxis=xr, yaxis=yr, showlegend=False, hoverinfo="skip"))
    for s, (px_, py_), c in zip(r2, r2_pos, r2_colors):
        annotations.append(dict(x=px_, y=py_, xref=xr, yref=yr, text=s, showarrow=False,
                                font=dict(size=7, family=SANS, color=c, weight="bold")))
    txt(letter_xy[0], letter_xy[1], letter, 24)
    yc = (y0 + y1) / 2
    txt(ytitle_x - 4.5, yc, "Cell Viability by Real-Time", 7.5, angle=-90, color="#333")
    txt(ytitle_x + 4.5, yc, "Proliferation Assay (%)", 7.5, angle=-90, color="#333")
    txt(xtitle_x, 1137, "Cell Viability by WST-1 Assay (%)", 7, color="#333")
    for k in range(3):
        ly = 988 + k * 15.5
        txt(leg_x, ly, "•", 10, color=DAY_COLORS[k], bold=False, xanchor="left")
        txt(leg_x + 7, ly, DAY_LABELS[k], 10, color="#222", bold=False, xanchor="left")


scatter_panel((93, 303, 977, 1110), [70, 110], 10, [0, 120], 20,
              [(K_D1_X, K_D1_Y), (K_D2_X, K_D2_Y), (K_D3_X, K_D3_Y)],
              K_R2, [(74.5, 65), (81.5, 89), (96.5, 82)], ["#222", "#222", "#222"],
              "K", (42, 984), 67, 200, 308)
scatter_panel((401, 611, 977, 1110), [20, 90], 10, [20, 50.4], 5,
              [(L_D1_X, L_D1_Y), (L_D2_X, L_D2_Y), (L_D3_X, L_D3_Y)],
              L_R2, [(58, 39.6), (31, 39.6), (78, 42)], [DAY_COLORS[0], DAY_COLORS[1], "#333"],
              "L", (357, 987), 373, 506, 631)
scatter_panel((720, 932, 977, 1110), [50, 110], 20, [30, 110], 20,
              [(M_D1_X, M_D1_Y), (M_D2_X, M_D2_Y), (M_D3_X, M_D3_Y)],
              M_R2, [(99, 47.5), (92, 92.3), (68, 92.3)], ["#222", "#222", "#222"],
              "M", (690, 986), 700, 826, 940)
scatter_panel((1026, 1234, 977, 1110), [40, 120], 20, [0, 90], 10,
              [(N_D1_X, N_D1_Y), (N_D2_X, N_D2_Y), (N_D3_X, N_D3_Y)],
              N_R2, [(96, 80.5), (74.5, 44), (62, 73.5)], [DAY_COLORS[0], DAY_COLORS[1], "#333"],
              "N", (995, 986), 1008, 1130, 1240)

# ---------------------------------------------------------------- frame + caption
bx0, by0, r = 9, 12, 12
path = (f"M {fx(bx0)},{fy(H + 30)} L {fx(bx0)},{fy(by0 + r)} "
        f"Q {fx(bx0)},{fy(by0)} {fx(bx0 + r)},{fy(by0)} L {fx(W + 30)},{fy(by0)}")
shapes.append(dict(type="path", xref="paper", yref="paper", path=path,
                   line=dict(color="#111", width=2.5)))
CAP_FONT = "Open Sans, Liberation Sans, sans-serif"
txt(23, 1629, "Fig. 2", 15.5, color="#222", xanchor="left", family=CAP_FONT)
txt(70, 1629, "(See legend on next page.)", 15.5, color="#222", bold=False, xanchor="left",
    family=CAP_FONT)

fig.update_layout(width=W, height=H, margin=dict(l=0, r=0, t=0, b=0), autosize=False,
                  paper_bgcolor="white", plot_bgcolor="white", barmode="overlay",
                  showlegend=False, annotations=annotations, shapes=shapes,
                  font=dict(family=SANS))

fig.write_html("out.html", include_plotlyjs=True, full_html=True,
               config={"displayModeBar": False, "staticPlot": True},
               post_script="document.body.style.margin='0';document.body.style.overflow='hidden';")
